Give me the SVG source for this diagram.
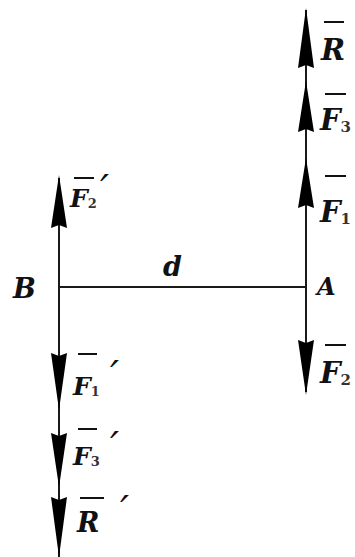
<svg xmlns="http://www.w3.org/2000/svg" width="355" height="557" viewBox="0 0 355 557">
<style>
.ln{stroke:#1a1a1a;stroke-width:2;fill:none}
.ah{fill:#000}
.t{font-family:"DejaVu Serif","Liberation Serif",serif;font-weight:bold;font-style:italic;fill:#111}
.ov{stroke:#111;stroke-width:2}
.sub{font-style:normal;fill:#333}
.pr{font-family:"DejaVu Serif","Liberation Serif",serif;font-style:italic;font-size:40px;fill:#111}
</style>
<rect width="355" height="557" fill="#fff"/>
<g id="connectors">
<line class="ln" x1="306" y1="10" x2="306" y2="392"/>
<line class="ln" x1="59" y1="178" x2="59" y2="557"/>
<line class="ln" x1="59" y1="287" x2="306" y2="287"/>
</g>
<g id="arrowheads">
<polygon class="ah" points="306,8 314,68 306,65 298,68"/>
<polygon class="ah" points="306,81 314,132 306,129 298,132"/>
<polygon class="ah" points="306,158 314,208 306,205 298,208"/>
<polygon class="ah" points="306,395 314,340 306,343 298,340"/>
<polygon class="ah" points="59,175 67,228 59,225 51,228"/>
<polygon class="ah" points="59,410 67,353 59,356 51,353"/>
<polygon class="ah" points="59,487 67,433 59,436 51,433"/>
<polygon class="ah" points="59,557 67,497 59,500 51,497"/>
</g>
<g id="B"><text class="t" x="13" y="298" font-size="27">B</text></g>
<g id="A"><text class="t" x="317" y="295" font-size="24">A</text></g>
<g id="d"><text class="t" x="163" y="276" font-size="27">d</text></g>
<g id="R">
<line class="ov" x1="324" y1="22" x2="344" y2="22"/>
<text class="t" x="321" y="60" font-size="29" font-style="normal">R</text>
</g>
<g id="F3">
<line class="ov" x1="325" y1="94" x2="346" y2="94"/>
<text class="t" x="320" y="130" font-size="29">F<tspan class="sub" font-size="15" dy="2">3</tspan></text>
</g>
<g id="F1">
<line class="ov" x1="325" y1="176" x2="346" y2="176"/>
<text class="t" x="320" y="222" font-size="29">F<tspan class="sub" font-size="15" dy="2">1</tspan></text>
</g>
<g id="F2">
<line class="ov" x1="325" y1="345" x2="346" y2="345"/>
<text class="t" x="320" y="383" font-size="29">F<tspan class="sub" font-size="15" dy="2">2</tspan></text>
</g>
<g id="F2p">
<line class="ov" x1="74" y1="178" x2="94" y2="178"/>
<text class="t" x="70" y="207" font-size="25">F<tspan class="sub" font-size="13" dy="1">2</tspan></text>
<text class="pr" x="100" y="203">′</text>
</g>
<g id="F1p">
<line class="ov" x1="78" y1="354" x2="97" y2="354"/>
<text class="t" x="73" y="395" font-size="25">F<tspan class="sub" font-size="13" dy="1">1</tspan></text>
<text class="pr" x="110" y="389">′</text>
</g>
<g id="F3p">
<line class="ov" x1="78" y1="429" x2="97" y2="429"/>
<text class="t" x="73" y="465" font-size="25">F<tspan class="sub" font-size="13" dy="1">3</tspan></text>
<text class="pr" x="110" y="460">′</text>
</g>
<g id="Rp">
<line class="ov" x1="80" y1="498" x2="104" y2="498"/>
<text class="t" x="77" y="532" font-size="27" font-style="normal">R</text>
<text class="pr" x="120" y="524">′</text>
</g>
</svg>
